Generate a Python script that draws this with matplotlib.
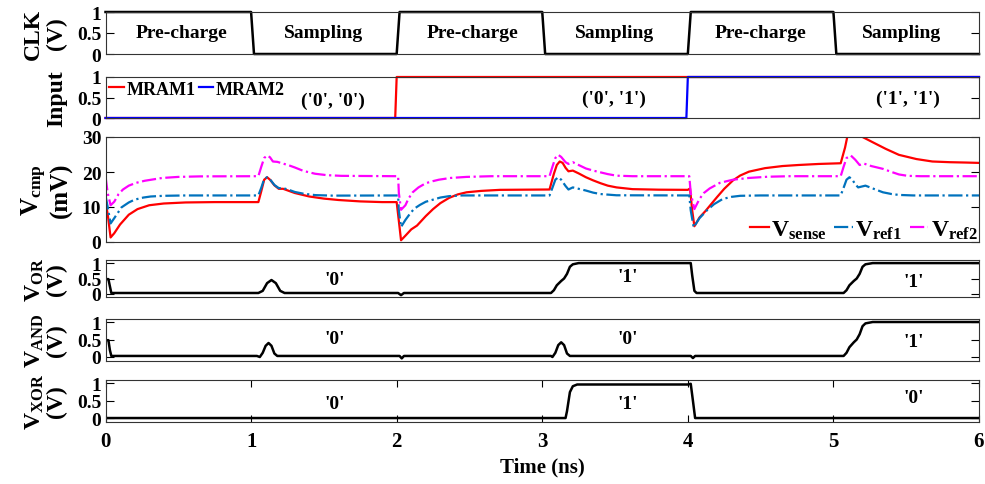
import matplotlib
matplotlib.use("Agg")
import matplotlib.pyplot as plt

plt.rcParams["font.family"] = ["Liberation Serif", "DejaVu Serif"]
plt.rcParams["font.weight"] = "bold"
plt.rcParams["axes.labelweight"] = "bold"
plt.rcParams["mathtext.fontset"] = "custom"
plt.rcParams["mathtext.rm"] = "Liberation Serif:bold"
plt.rcParams["mathtext.it"] = "Liberation Serif:bold"
plt.rcParams["mathtext.bf"] = "Liberation Serif:bold"
plt.rcParams["mathtext.default"] = "regular"

# ---- data (time in ns) ----
clk_t = [0, 1.0, 1.02, 2.0, 2.02, 3.0, 3.02, 4.0, 4.02, 5.0, 5.02, 6.0]
clk_v = [1, 1, 0, 0, 1, 1, 0, 0, 1, 1, 0, 0]
phase_labels = ["Pre-charge", "Sampling", "Pre-charge", "Sampling", "Pre-charge", "Sampling"]
phase_x = [0.52, 1.5, 2.52, 3.5, 4.5, 5.47]

mram1_t = [0, 1.99, 2.0, 6.0]
mram1_v = [0, 0, 1, 1]
mram2_t = [0, 3.99, 4.0, 6.0]
mram2_v = [0, 0, 1, 1]
input_labels = ["('0', '0')", "('0', '1')", "('1', '1')"]
input_x = [1.56, 3.49, 5.51]
input_y = [0.43, 0.49, 0.49]

sense_t = [0, 0.015, 0.035, 0.06, 0.10, 0.16, 0.22, 0.30, 0.40, 0.55, 0.75, 1.05,
           1.07, 1.09, 1.11, 1.13, 1.16, 1.19, 1.22, 1.26, 1.30, 1.40, 1.50, 1.60, 1.75, 1.90, 2.0,
           2.015, 2.03, 2.06, 2.10, 2.14, 2.20, 2.25, 2.30, 2.36, 2.42, 2.48, 2.58, 2.71, 3.05,
           3.08, 3.10, 3.12, 3.14, 3.16, 3.18, 3.21, 3.25, 3.30, 3.35, 3.40, 3.45, 3.51, 3.62, 3.80, 4.0,
           4.015, 4.03, 4.045, 4.08, 4.12, 4.16, 4.20, 4.25, 4.31, 4.36, 4.42, 4.53, 4.65, 4.76, 4.90, 5.05,
           5.08, 5.10, 5.13, 5.17, 5.20, 5.27, 5.36, 5.45, 5.57, 5.68, 5.80, 5.91, 6.0]
sense_v = [11.4, 8.0, 1.3, 2.5, 5.0, 7.8, 9.4, 10.5, 11.0, 11.3, 11.4, 11.4,
           14.5, 17.8, 18.5, 17.8, 16.2, 15.2, 15.2, 14.6, 14.0, 13.0, 12.4, 12.0, 11.6, 11.4, 11.4,
           6.0, 0.5, 1.8, 3.6, 4.7, 7.4, 9.4, 11.1, 12.6, 13.6, 14.2, 14.6, 14.9, 15.0,
           19.5, 22.0, 23.0, 22.6, 21.2, 20.2, 20.4, 19.6, 18.5, 17.6, 16.8, 16.1, 15.6, 15.1, 14.95, 14.9,
           15.3, 9.0, 4.5, 7.0, 8.8, 10.8, 12.8, 15.2, 17.6, 19.0, 20.1, 21.1, 21.7, 22.0, 22.3, 22.5,
           27.0, 31.0, 32.5, 31.5, 30.0, 28.5, 26.6, 24.9, 23.7, 23.0, 22.8, 22.7, 22.6]

ref1_t = [0, 0.015, 0.035, 0.06, 0.11, 0.16, 0.20, 0.26, 0.31, 0.40, 0.55, 1.05,
          1.07, 1.09, 1.11, 1.13, 1.16, 1.19, 1.22, 1.26, 1.30, 1.36, 1.44, 1.56, 2.01,
          2.015, 2.03, 2.06, 2.09, 2.12, 2.16, 2.20, 2.25, 2.30, 2.36, 2.45, 3.05,
          3.07, 3.09, 3.11, 3.13, 3.16, 3.18, 3.21, 3.25, 3.30, 3.35, 3.40, 3.51, 4.01,
          4.02, 4.04, 4.08, 4.13, 4.18, 4.24, 4.30, 4.36, 4.50, 5.05,
          5.07, 5.09, 5.11, 5.13, 5.15, 5.17, 5.22, 5.27, 5.34, 5.40, 5.45, 5.55, 6.0]
ref1_v = [13.3, 10.0, 5.3, 6.8, 9.9, 11.3, 12.1, 12.7, 13.0, 13.2, 13.3, 13.3,
          15.5, 18.0, 18.5, 17.9, 16.3, 15.4, 15.4, 14.9, 14.3, 13.8, 13.4, 13.25, 13.3,
          9.0, 4.3, 6.3, 8.0, 9.5, 10.6, 11.5, 12.1, 12.7, 13.1, 13.3, 13.3,
          15.5, 17.8, 18.5, 17.8, 16.0, 15.0, 15.6, 15.2, 14.7, 14.1, 13.7, 13.35, 13.3,
          9.0, 4.2, 6.8, 9.0, 10.8, 12.3, 12.9, 13.2, 13.3, 13.3,
          15.5, 17.8, 18.5, 17.8, 16.5, 15.6, 16.1, 15.3, 14.2, 13.7, 13.45, 13.3, 13.3]

ref2_t = [0, 0.015, 0.035, 0.06, 0.09, 0.12, 0.16, 0.21, 0.27, 0.33, 0.39, 0.50, 0.65, 1.05,
          1.07, 1.09, 1.11, 1.13, 1.15, 1.18, 1.22, 1.26, 1.30, 1.36, 1.44, 1.52, 1.62, 2.01,
          2.015, 2.03, 2.06, 2.08, 2.11, 2.15, 2.20, 2.25, 2.29, 2.37, 2.48, 2.65, 3.05,
          3.07, 3.09, 3.11, 3.13, 3.16, 3.18, 3.21, 3.25, 3.30, 3.35, 3.40, 3.45, 3.51, 3.62, 4.01,
          4.02, 4.045, 4.08, 4.11, 4.15, 4.22, 4.31, 4.42, 4.55, 4.70, 5.05,
          5.07, 5.09, 5.12, 5.15, 5.18, 5.21, 5.26, 5.34, 5.40, 5.45, 5.51, 5.60, 6.0]
ref2_v = [18.8, 14.0, 10.5, 11.5, 13.7, 15.0, 16.1, 16.9, 17.5, 17.9, 18.3, 18.6, 18.75, 18.8,
          21.5, 24.0, 24.7, 24.2, 23.0, 22.9, 22.4, 21.9, 21.3, 20.3, 19.5, 19.1, 18.9, 18.8,
          14.0, 9.2, 10.5, 12.3, 14.2, 15.6, 16.8, 17.4, 17.8, 18.3, 18.6, 18.8, 18.8,
          21.5, 24.0, 24.9, 24.3, 22.8, 22.3, 22.8, 22.0, 21.0, 20.4, 19.9, 19.4, 18.95, 18.8, 18.8,
          14.0, 9.4, 12.3, 14.0, 15.3, 16.9, 17.8, 18.3, 18.65, 18.8, 18.8,
          21.5, 24.0, 24.7, 23.5, 22.0, 22.4, 21.7, 20.9, 20.0, 19.3, 18.9, 18.8, 18.8]

or_t = [0, 0.02, 0.03, 0.04, 1.05, 1.08, 1.11, 1.14, 1.17, 1.20, 1.23, 2.01, 2.03, 2.05,
        3.06, 3.08, 3.10, 3.13, 3.15, 3.17, 3.19, 3.21, 3.25, 4.02, 4.03, 4.045, 4.06,
        5.07, 5.09, 5.11, 5.14, 5.16, 5.18, 5.20, 5.22, 5.27, 6.0]
or_v = [0.48, 0.48, 0.25, 0.03, 0.03, 0.10, 0.35, 0.45, 0.35, 0.10, 0.03, 0.03, -0.04, 0.03,
        0.03, 0.12, 0.28, 0.42, 0.50, 0.65, 0.88, 0.96, 1.0, 1.0, 0.6, 0.1, 0.03,
        0.03, 0.12, 0.28, 0.42, 0.50, 0.65, 0.88, 0.96, 1.0, 1.0]

and_t = [0, 0.02, 0.03, 0.04, 1.04, 1.06, 1.08, 1.10, 1.12, 1.14, 1.16, 1.18, 2.02, 2.035, 2.05,
         3.06, 3.07, 3.09, 3.11, 3.13, 3.15, 3.17, 3.19, 4.02, 4.035, 4.05,
         5.07, 5.09, 5.11, 5.14, 5.16, 5.18, 5.20, 5.22, 5.27, 6.0]
and_v = [0.48, 0.48, 0.2, 0.03, 0.03, 0.0, 0.12, 0.32, 0.40, 0.32, 0.10, 0.03, 0.03, -0.04, 0.03,
         0.03, 0.0, 0.12, 0.34, 0.42, 0.34, 0.10, 0.03, 0.03, -0.03, 0.03,
         0.03, 0.12, 0.28, 0.42, 0.50, 0.65, 0.88, 0.96, 1.0, 1.0]

xor_t = [0, 3.16, 3.17, 3.19, 3.21, 3.24, 4.0, 4.02, 4.035, 4.05, 6.0]
xor_v = [0.0, 0.0, 0.2, 0.75, 0.92, 0.97, 0.97, 0.99, 0.5, 0.0, 0.0]

logic_x = [1.575, 3.59, 5.55]
or_labels = ["'0'", "'1'", "'1'"]
or_y = [0.48, 0.55, 0.39]
and_labels = ["'0'", "'0'", "'1'"]
and_y = [0.53, 0.52, 0.43]
xor_labels = ["'0'", "'1'", "'0'"]
xor_y = [0.41, 0.43, 0.60]

# ---- layout (pixel boxes of the reference) ----
W, H = 985, 485
fig = plt.figure(figsize=(W / 100, H / 100), dpi=100)


def make_axes(top, bottom):
    return fig.add_axes([105.5 / W, 1 - bottom / H, (979 - 105.5) / W, (bottom - top) / H])


def style(ax, ylim, yticks, yticklabels, labelx=-0.044):
    ax.set_xlim(0, 6)
    ax.set_ylim(*ylim)
    ax.set_yticks(yticks)
    ax.set_yticklabels(yticklabels)
    ax.set_xticks([])
    ax.tick_params(axis="y", direction="in", left=True, right=True, length=6, width=0.8,
                   labelsize=14, pad=3)
    for s in ax.spines.values():
        s.set_linewidth(0.8)
        s.set_color("#333333")
    ax.yaxis.set_label_coords(labelx, 0.5)


ax_clk = make_axes(13, 55)
ax_in = make_axes(78, 119)
ax_cmp = make_axes(138, 243)
ax_or = make_axes(261, 298)
ax_and = make_axes(319.5, 361.5)
ax_xor = make_axes(381, 422.5)

# CLK
ax_clk.plot(clk_t, clk_v, color="black", lw=1.8, clip_on=False)
style(ax_clk, (0, 1), [0, 0.5, 1], ["0", "0.5", "1"])
ax_clk.set_ylabel("CLK\n(V)", fontsize=17, linespacing=1.1)
for lab, x in zip(phase_labels, phase_x):
    ax_clk.text(x, 0.5, lab, ha="center", va="center", fontsize=14)

# Input
ax_in.plot(mram1_t, mram1_v, color="#FF0000", lw=1.6, clip_on=False, label="MRAM1")
ax_in.plot(mram2_t, mram2_v, color="#0000FF", lw=1.6, clip_on=False, label="MRAM2")
style(ax_in, (0, 1), [0, 0.5, 1], ["0", "0.5", "1"])
ax_in.set_ylabel("Input", fontsize=17)
ax_in.legend(loc="upper left", ncol=2, frameon=False, fontsize=13, handlelength=0.8,
             handletextpad=0.15, columnspacing=0.2, borderaxespad=0.1, borderpad=0.1)
for lab, x, y in zip(input_labels, input_x, input_y):
    ax_in.text(x, y, lab, ha="center", va="center", fontsize=14)

# V_cmp
ax_cmp.plot(sense_t, sense_v, color="#FF0000", lw=1.6, label=r"$V_{sense}$")
ax_cmp.plot(ref1_t, ref1_v, color="#0072BD", lw=1.6, ls="-.", label=r"$V_{ref1}$")
ax_cmp.plot(ref2_t, ref2_v, color="#FF00FF", lw=1.6, ls="-.", label=r"$V_{ref2}$")
style(ax_cmp, (0, 30), [0, 10, 20, 30], ["0", "10", "20", "30"], labelx=-0.037)
ax_cmp.set_ylabel("$V_{cmp}$\n(mV)", fontsize=18, linespacing=1.05)
ax_cmp.legend(loc="lower right", ncol=3, frameon=False, fontsize=17, handlelength=0.8,
              handletextpad=0.1, columnspacing=0.3, borderaxespad=0.05, borderpad=0.0)

# logic outputs
for ax, t, v, lab, labels, ys in [
    (ax_or, or_t, or_v, "$V_{OR}$\n(V)", or_labels, or_y),
    (ax_and, and_t, and_v, "$V_{AND}$\n(V)", and_labels, and_y),
    (ax_xor, xor_t, xor_v, "$V_{XOR}$\n(V)", xor_labels, xor_y),
]:
    ax.plot(t, v, color="black", lw=1.8)
    style(ax, (-0.1, 1.1), [0, 0.5, 1], ["0", "0.5", "1"])
    ax.set_ylabel(lab, fontsize=17, linespacing=1.0)
    for txt, x, y in zip(labels, logic_x, ys):
        ax.text(x, y, txt, ha="center", va="center", fontsize=14)

ax_xor.set_xticks([0, 1, 2, 3, 4, 5, 6])
ax_xor.tick_params(axis="x", direction="in", top=True, bottom=True, length=5, width=0.8,
                   labelsize=15, pad=7)
ax_xor.set_xlabel("Time (ns)", fontsize=15, labelpad=4)

fig.savefig("out.png", dpi=100)
